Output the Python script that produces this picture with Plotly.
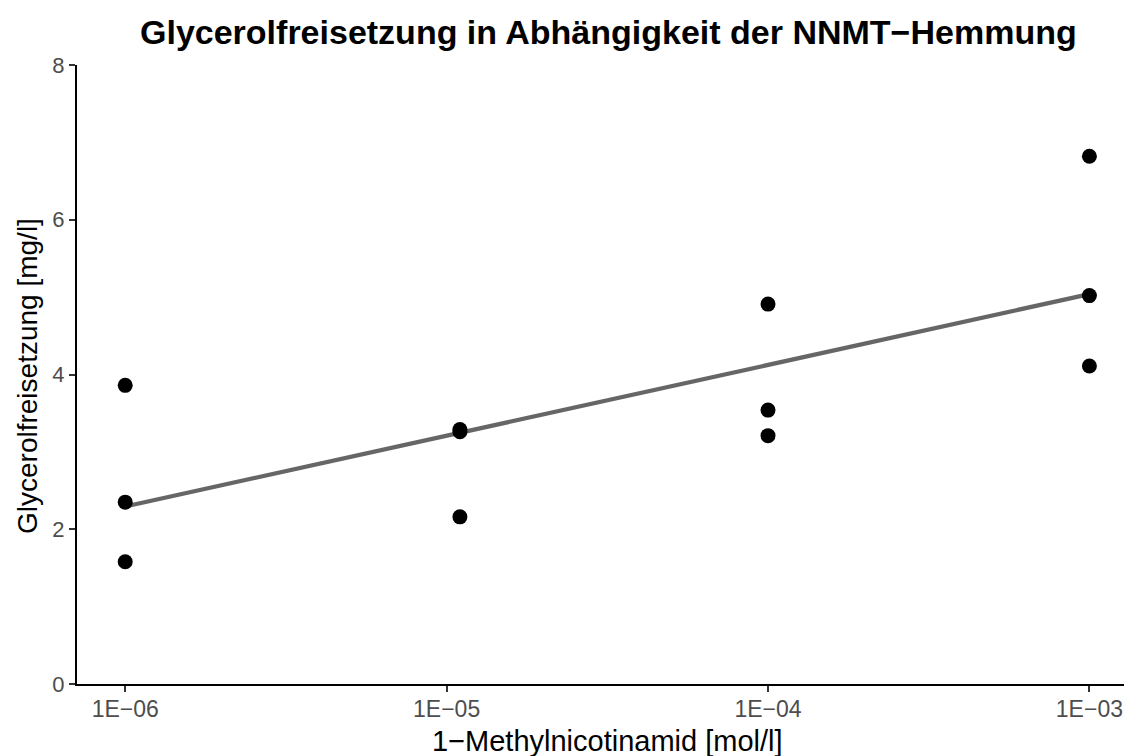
import numpy as np
import plotly.graph_objects as go

# ---- data ----
conc = [1e-6, 1e-6, 1e-6,
        1.1e-5, 1.1e-5, 1.1e-5,
        1e-4, 1e-4, 1e-4,
        1e-3, 1e-3, 1e-3]
glycerol = [3.86, 2.35, 1.58,
            3.29, 3.26, 2.16,
            4.91, 3.54, 3.21,
            6.82, 5.02, 4.11]
x_tickvals = [1e-6, 1e-5, 1e-4, 1e-3]
x_ticktext = ["1E\u221206", "1E\u221205", "1E\u221204", "1E\u221203"]
y_tickvals = [0, 2, 4, 6, 8]

title_text = "Glycerolfreisetzung in Abhängigkeit der NNMT\u2212Hemmung"
x_title = "1\u2212Methylnicotinamid [mol/l]"
y_title = "Glycerolfreisetzung [mg/l]"

# ---- linear fit on log10(x), like geom_smooth(method = "lm") ----
lx = np.log10(conc)
slope, intercept = np.polyfit(lx, glycerol, 1)
fit_lx = np.linspace(lx.min(), lx.max(), 50)
fit_x = 10 ** fit_lx
fit_y = slope * fit_lx + intercept

FONT = "Liberation Sans, Arial, Helvetica, sans-serif"
W, H = 1124, 756
L, R, T, B = 77, 0, 65, 72
pw, ph = W - L - R, H - T - B

def px_x(p):
    return (p - L) / pw

def px_y(p):
    return (H - B - p) / ph

fig = go.Figure()
fig.add_trace(go.Scatter(
    x=fit_x, y=fit_y, mode="lines",
    line=dict(color="#666666", width=4.2),
    hoverinfo="skip", showlegend=False))
fig.add_trace(go.Scatter(
    x=conc, y=glycerol, mode="markers",
    marker=dict(color="black", size=15, line=dict(width=0)),
    showlegend=False))

fig.update_layout(
    width=W, height=H,
    margin=dict(l=L, r=R, t=T, b=B, pad=0),
    paper_bgcolor="white", plot_bgcolor="white",
    font=dict(family=FONT),
    showlegend=False,
    xaxis=dict(
        type="log", range=[-6.15, -6.15 + pw / 321.4],
        tickvals=x_tickvals, ticktext=x_ticktext,
        showgrid=False, zeroline=False,
        showline=True, linecolor="black", linewidth=2,
        ticks="outside", ticklen=6, tickwidth=2, tickcolor="#333333",
        tickfont=dict(size=23, color="#4D4D4D", family=FONT),
        ticklabelstandoff=-3,
    ),
    yaxis=dict(
        range=[0, 8], tickvals=y_tickvals,
        showgrid=False, zeroline=False,
        showline=True, linecolor="black", linewidth=2,
        ticks="outside", ticklen=6, tickwidth=2, tickcolor="#333333",
        tickfont=dict(size=22, color="#4D4D4D", family=FONT),
    ),
    annotations=[
        dict(text="<b>" + title_text + "</b>", xref="paper", yref="paper",
             x=px_x(608), y=px_y(32), xanchor="center", yanchor="middle",
             showarrow=False, font=dict(size=34, color="black", family=FONT)),
        dict(text=x_title, xref="paper", yref="paper",
             x=px_x(607), y=px_y(741), xanchor="center", yanchor="middle",
             showarrow=False, font=dict(size=29, color="black", family=FONT)),
        dict(text=y_title, xref="paper", yref="paper", textangle=-90,
             x=px_x(27), y=px_y(376), xanchor="center", yanchor="middle",
             showarrow=False, font=dict(size=28, color="black", family=FONT)),
    ],
)

fig.write_html("out.html")
